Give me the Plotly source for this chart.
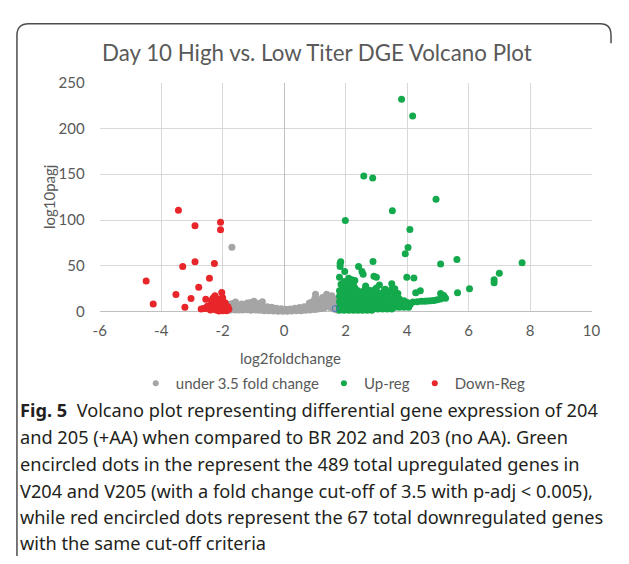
import plotly.graph_objects as go

# page is 629x564; the browser's default 8px body margin is accounted for
PAGE_W, PAGE_H = 629, 564
OFF = 8
W, H = PAGE_W - 2 * OFF, PAGE_H - 2 * OFF

# ---------------- data ----------------
gray_x = [-1.70, -1.85, -1.80, -1.78, -1.75, -1.70, -1.68, -1.65, -1.60, -1.58, -1.55, -1.50, -1.48, -1.42,
          -1.38, -1.35, -1.30, -1.25, -1.20, -1.20, -1.15, -1.10, -1.09, -1.08, -1.02, -0.98, -0.98, -0.92,
          -0.88, -0.82, -0.80, -0.75, -0.71, -0.70, -0.65, -0.60, -0.55, -0.50, -0.45, -0.40, -0.35, -0.30,
          -0.25, -0.20, -0.15, -0.10, -0.05, 0.00, 0.05, 0.10, 0.15, 0.20, 0.25, 0.30, 0.35, 0.40, 0.45,
          0.50, 0.55, 0.60, 0.65, 0.70, 0.75, 0.80, 0.82, 0.85, 0.90, 0.92, 0.95, 1.00, 1.00, 1.02, 1.05,
          1.08, 1.10, 1.12, 1.15, 1.20, 1.22, 1.25, 1.28, 1.30, 1.35, 1.38, 1.40, 1.42, 1.45, 1.50, 1.52,
          1.55, 1.58, 1.60, 1.62, 1.65, 1.68, 1.70, 1.72, 1.75, 1.78]
gray_y = [70.3, 3.0, 8.0, 1.5, 5.0, 2.5, 9.0, 6.0, 1.8, 10.5, 4.5, 7.0, 2.0, 5.0,
          8.5, 1.8, 4.2, 6.5, 2.2, 9.5, 5.0, 8.0, 10.0, 1.5, 4.0, 6.8, 11.5, 2.0,
          4.5, 9.0, 1.5, 3.8, 11.0, 6.0, 1.2, 3.5, 5.5, 1.0, 3.0, 4.8, 0.8, 2.5,
          3.8, 0.6, 2.0, 3.2, 0.5, 1.8, 2.8, 0.5, 1.8, 3.0, 0.8, 2.2, 3.8, 1.0, 2.8,
          4.5, 1.2, 3.5, 5.5, 1.5, 4.0, 7.0, 9.5, 2.0, 5.0, 11.0, 8.0, 2.5, 14.5, 19.0, 6.0,
          10.0, 3.0, 13.0, 7.5, 3.5, 11.0, 15.5, 8.5, 4.0, 12.5, 19.0, 6.5, 16.0, 9.5, 4.5, 13.5,
          17.5, 7.5, 11.0, 3.0, 14.0, 6.0, 9.5, 2.0, 12.0, 5.0]

up_x = [3.82, 4.18, 2.59, 2.88, 4.94, 3.52, 1.99, 4.09, 4.03, 3.94, 5.62, 5.09, 7.74, 2.89, 7.00,
        6.83, 6.83, 6.03, 5.64, 3.99, 4.22, 5.09, 5.19, 4.43, 4.28, 5.25,
        1.82, 1.84, 1.82, 1.97, 2.42, 2.53, 2.57, 2.92, 3.00, 3.10, 1.80, 2.10, 2.20, 2.30,
        3.29, 3.50, 3.50, 3.55, 2.65, 2.74, 2.96, 3.32, 3.45, 3.60, 3.70, 3.30, 3.60, 3.75, 3.90, 4.00,
        3.87, 4.00, 4.19, 4.33, 4.46, 4.57, 4.67, 4.78, 4.88, 4.98, 5.09, 5.22, 5.15,
        1.80, 1.95, 2.10, 2.25, 2.40, 2.55, 2.70, 2.85,
        1.85, 2.00, 2.15, 2.30, 2.45, 2.60, 2.75, 2.90, 3.05, 3.20, 3.35, 3.50,
        1.80, 1.95, 2.10, 2.25, 2.40, 2.55, 2.70, 2.85, 3.00, 3.15, 3.30, 3.45, 3.60, 3.75, 3.90, 4.05,
        1.85, 2.00, 2.15, 2.30, 2.45, 2.60, 2.75, 2.90, 3.05, 3.20, 3.35, 3.50, 3.65, 3.80, 3.95, 4.10,
        1.80, 1.95, 2.10, 2.25, 2.40, 2.55, 2.70, 2.85, 3.00, 3.15, 3.30, 3.45, 3.60, 3.75,
        1.85, 2.00, 2.15, 2.30, 2.45, 2.60, 2.75, 2.90, 3.05, 3.20, 3.40, 3.55,
        1.80, 1.95, 2.10, 2.25, 2.40, 2.60, 2.80, 2.95, 3.15, 3.35,
        1.85, 2.00, 2.20, 2.35, 2.55, 2.70, 2.90, 3.10,
        1.80, 1.95, 2.15, 2.40, 2.60, 2.85, 3.25,
        1.90, 2.10, 2.30, 2.65, 3.00,
        1.85, 2.05, 2.25, 1.95, 2.20]
up_y = [231.7, 213.4, 148.0, 145.9, 122.7, 110.0, 99.5, 89.6, 70.0, 63.3, 57.0, 52.0, 53.5, 54.9, 41.9,
        34.8, 31.6, 25.0, 20.8, 37.6, 36.9, 20.0, 17.6, 22.9, 20.8, 14.8,
        52.7, 54.5, 49.2, 44.0, 49.2, 44.0, 41.0, 38.7, 37.7, 29.2, 37.5, 36.5, 35.0, 34.0,
        24.6, 30.5, 24.6, 22.8, 28.0, 23.7, 24.3, 21.0, 21.0, 17.0, 20.0, 18.0, 25.0, 14.0, 12.0, 10.0,
        9.5, 9.8, 10.5, 10.9, 11.3, 11.5, 11.6, 12.0, 12.3, 13.0, 14.0, 15.9, 17.5,
        1.5, 1.5, 1.5, 1.5, 1.5, 1.5, 1.5, 1.5,
        3.0, 3.0, 3.0, 3.0, 3.0, 3.0, 3.0, 3.0, 3.0, 3.0, 3.0, 3.0,
        5.0, 5.0, 5.0, 5.0, 5.0, 5.0, 5.0, 5.0, 5.0, 5.0, 5.0, 5.0, 5.0, 5.0, 5.0, 5.0,
        8.0, 8.0, 8.0, 8.0, 8.0, 8.0, 8.0, 8.0, 8.0, 8.0, 8.0, 8.0, 8.0, 8.0, 8.0, 8.0,
        11.0, 11.0, 11.0, 11.0, 11.0, 11.0, 11.0, 11.0, 11.0, 11.0, 11.0, 11.0, 11.0, 11.0,
        14.0, 14.0, 14.0, 14.0, 14.0, 14.0, 14.0, 14.0, 14.0, 14.0, 14.0, 14.0,
        17.0, 17.0, 17.0, 17.0, 17.0, 17.0, 17.0, 17.0, 17.0, 17.0,
        20.0, 20.0, 20.0, 20.0, 20.0, 20.0, 20.0, 20.0,
        23.0, 23.0, 23.0, 23.0, 23.0, 23.0, 23.0,
        26.0, 26.0, 26.0, 26.0, 26.0,
        30.0, 30.0, 30.0, 33.0, 33.0]

down_x = [-3.44, -2.90, -2.07, -2.07, -2.90, -3.30, -2.27, -4.49, -2.43, -2.78, -3.52, -3.03, -4.26,
          -3.23, -2.55, -2.03, -2.00, -2.25, -2.31,
          -2.62, -2.55, -2.41, -2.30, -2.20, -2.09, -1.93, -1.83, -1.95, -2.06, -2.15, -2.36, -2.22,
          -2.04, -1.88, -1.80, -2.50, -2.30, -2.10, -1.90, -2.00, -2.40, -2.70, -2.15, -1.85, -2.18,
          -1.98, -2.12, -1.92, -2.45]
down_y = [110.7, 93.8, 97.7, 89.3, 54.5, 49.2, 52.7, 33.4, 36.6, 26.8, 18.7, 14.4, 8.4,
          5.0, 13.7, 21.1, 15.2, 17.3, 15.0,
          3.6, 3.6, 7.1, 9.5, 5.3, 3.6, 3.6, 5.3, 8.9, 12.3, 10.6, 12.3, 1.9,
          1.9, 1.2, 2.6, 6.0, 4.0, 7.0, 6.0, 1.0, 2.0, 3.0, 14.0, 3.5, 8.0,
          4.5, 0.8, 9.8, 4.8]

stray_x = [1.66]
stray_y = [3.5]

series_names = ["under 3.5 fold change", "Up-reg", "Down-Reg"]
series_colors = ["#a5a5a5", "#13a94c", "#e8262a"]

title_text = "Day 10 High vs. Low Titer DGE Volcano Plot"
x_title = "log2foldchange"
y_title = "log10pagj"
x_ticks = [-6, -4, -2, 0, 2, 4, 6, 8, 10]
x_tick_labels = ["-6", "-4", "-2", "0", "2", "4", "6", "8", "10"]
y_ticks = [0, 50, 100, 150, 200, 250]
y_tick_labels = ["0", "50", "100", "150", "200", "250"]

caption_lines = [
    "<b>Fig. 5</b>  Volcano plot representing differential gene expression of 204",
    "and 205 (+AA) when compared to BR 202 and 203 (no AA). Green",
    "encircled dots in the represent the 489 total upregulated genes in",
    "V204 and V205 (with a fold change cut-off of 3.5 with p-adj < 0.005),",
    "while red encircled dots represent the 67 total downregulated genes",
    "with the same cut-off criteria",
]

# ---------------- figure ----------------
CH = "Lato"
TXT = "#595959"
MS = 7
FS = 15

fig = go.Figure()
for xs, ys, name, col in [(gray_x, gray_y, series_names[0], series_colors[0]),
                          (up_x, up_y, series_names[1], series_colors[1]),
                          (down_x, down_y, series_names[2], series_colors[2])]:
    fig.add_trace(go.Scatter(x=xs, y=ys, mode="markers", name=name, showlegend=False,
                             cliponaxis=False, hoverinfo="skip",
                             marker=dict(size=MS, color=col, line=dict(width=0))))
fig.add_trace(go.Scatter(x=stray_x, y=stray_y, mode="markers", showlegend=False, cliponaxis=False,
                         hoverinfo="skip",
                         marker=dict(size=6, color="rgba(0,0,0,0)", line=dict(width=1, color="#4472c4"))))
# legend entries
for name, col in zip(series_names, series_colors):
    fig.add_trace(go.Scatter(x=[None], y=[None], mode="markers", name=name,
                             marker=dict(size=6, color=col)))

# page pixel -> paper coordinate helpers
def px_x(p):
    return (p - OFF) / W

def px_y(p):
    return 1 - (p - OFF) / H

fig.update_layout(
    width=W, height=H, autosize=False,
    margin=dict(l=0, r=0, t=0, b=0),
    paper_bgcolor="white", plot_bgcolor="white",
    font=dict(family=CH, color=TXT, size=FS),
    showlegend=True,
    legend=dict(orientation="h", x=px_x(132), xanchor="left", y=px_y(386), yanchor="middle",
                font=dict(family=CH, size=FS, color=TXT), itemwidth=30, tracegroupgap=0,
                bgcolor="rgba(0,0,0,0)"),
    xaxis=dict(domain=[px_x(95), px_x(600)], range=[-6, 10], tickvals=x_ticks, ticktext=x_tick_labels,
               showgrid=True, gridcolor="#d9d9d9", gridwidth=1,
               zeroline=True, zerolinecolor="#bfbfbf", zerolinewidth=1,
               showline=False, ticks="", ticklabelstandoff=8,
               tickfont=dict(family=CH, size=FS, color=TXT), fixedrange=True),
    yaxis=dict(domain=[px_y(311.7), px_y(74.7)], range=[0, 250], tickvals=y_ticks, ticktext=y_tick_labels,
               showgrid=True, gridcolor="#d9d9d9", gridwidth=1,
               zeroline=True, zerolinecolor="#bfbfbf", zerolinewidth=1,
               showline=False, ticks="", ticklabelstandoff=14,
               tickfont=dict(family=CH, size=FS, color=TXT), fixedrange=True),
)

ann = [
    dict(text=title_text, x=px_x(318), y=px_y(44), xref="paper", yref="paper",
         xanchor="center", yanchor="middle", showarrow=False,
         font=dict(family=CH, size=22.3, color=TXT)),
    dict(text=x_title, x=px_x(291), y=px_y(360), xref="paper", yref="paper",
         xanchor="center", yanchor="middle", showarrow=False,
         font=dict(family=CH, size=FS, color=TXT)),
    dict(text=y_title, x=px_x(43), y=px_y(193), xref="paper", yref="paper", textangle=-90,
         xanchor="center", yanchor="middle", showarrow=False,
         font=dict(family=CH, size=FS, color=TXT)),
]
line_y = [413, 441, 469, 497, 524, 551]
for t, yy in zip(caption_lines, line_y):
    ann.append(dict(text=t, x=px_x(11), y=px_y(yy), xref="paper", yref="paper",
                    xanchor="left", yanchor="middle", showarrow=False,
                    font=dict(family="Noto Sans", size=18.2, color="#231f20")))
fig.update_layout(annotations=ann)

# rounded frame (left and top edges visible)
def P(x, y):
    return f"{px_x(x):.5f},{px_y(y):.5f}"

path = (f"M {P(10, 575)} L {P(10, 26)} Q {P(10, 14)} {P(22, 14)} "
        f"L {P(609, 14)} Q {P(620, 14)} {P(620, 26)} L {P(620, 34)}")
fig.add_shape(type="path", path=path, xref="paper", yref="paper",
              line=dict(color="#4d4d4d", width=1.5))

fig.write_html("out.html", config={"displayModeBar": False})
